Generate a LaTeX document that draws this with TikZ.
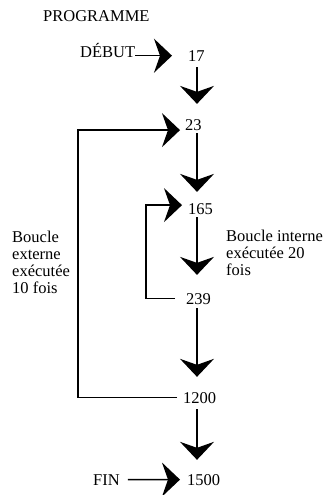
\documentclass[tikz,border=0pt]{standalone}
\usepackage{fontspec}
\setmainfont{Liberation Serif}
\usetikzlibrary{arrows.meta}
\tikzset{
  txt/.style={font=\fontsize{16.5}{17}\selectfont, inner sep=0pt},
  num/.style={txt, anchor=base west},
  flow/.style={line width=1.5pt, -{Stealth[length=18pt,width=34pt,inset=6pt]}},
}
\begin{document}
\begin{tikzpicture}[x=1pt,y=-1pt]
    \useasboundingbox (0,0) rectangle (326,495);
    \coordinate (spine) at (197,0);
    \coordinate (outer) at (78,0);
    \coordinate (inner) at (146,0);
    \node[num] (titre) at (43,22) {PROGRAMME};
    \node[num] (debut) at (80,58) {DÉBUT};
    \node[num] (fin) at (93,485) {FIN};
    \node[num] (n17) at (188,62) {17};
    \node[num] (n23) at (185,130) {23};
    \node[num] (n165) at (188,214) {165};
    \node[num] (n239) at (186,304) {239};
    \node[num] (n1200) at (183,403) {1200};
    \node[num] (n1500) at (187,485) {1500};
    \node[txt, anchor=base west, align=left] (externe) at (12,293) {Boucle\\externe\\exécutée\\10 fois};
    \node[txt, anchor=base west, align=left] (interne) at (226,275) {Boucle interne\\exécutée 20\\fois};
    % fleches
    \draw[flow, shorten >=16pt] (debut.mid east) -- (debut.mid east -| n17.west);
    \draw[flow, shorten <=8pt, shorten >=7pt] (fin.east) -- (n1500.west);
    \draw[flow, shorten <=5pt, shorten >=15pt] (n17.south -| spine) -- (n23.north -| spine);
    \draw[flow, shorten <=3pt, shorten >=11pt] (n23.south -| spine) -- (n165.north -| spine);
    \draw[flow, shorten <=3pt, shorten >=18pt] (n165.south -| spine) -- (n239.north -| spine);
    \draw[flow, shorten <=4pt, shorten >=15pt] (n239.south -| spine) -- (n1200.north -| spine);
    \draw[flow, shorten <=6pt, shorten >=14pt] (n1200.south -| spine) -- (n1500.north -| spine);
    % boucles
    \draw[flow, shorten <=6pt, shorten >=5pt] (n1200.west) -- (n1200.west -| outer) |- ([yshift=-5.5pt]n23.west);
    \draw[flow, shorten <=11pt, shorten >=6pt] (n239.west) -- (n239.west -| inner) |- ([yshift=3.5pt]n165.west);
\end{tikzpicture}
\end{document}
